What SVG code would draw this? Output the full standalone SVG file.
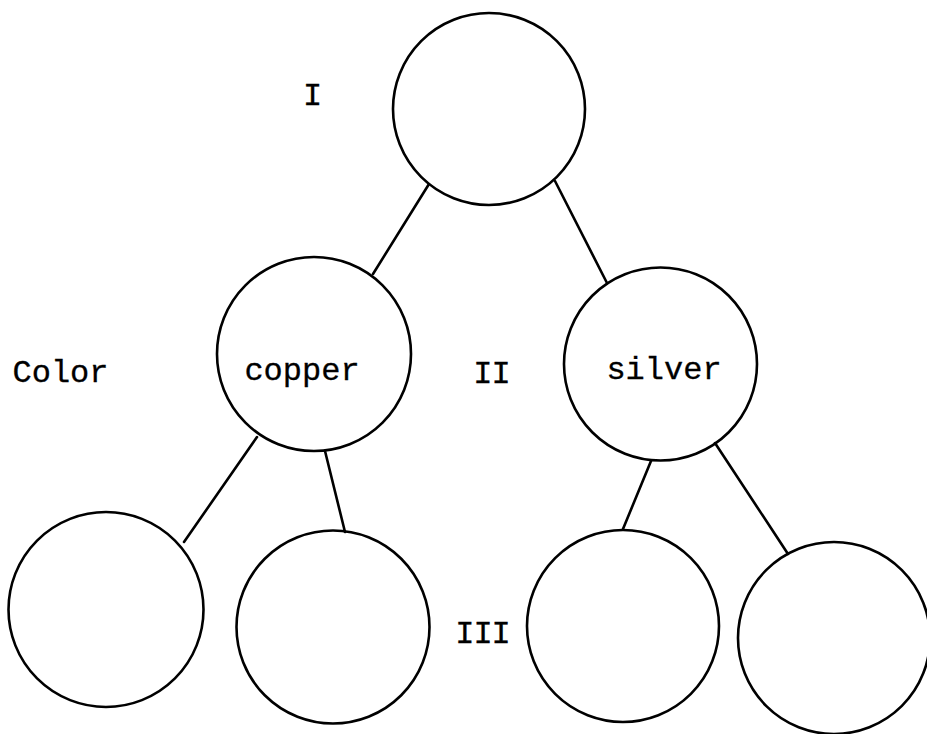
<svg xmlns="http://www.w3.org/2000/svg" width="927" height="734" viewBox="0 0 927 734">
  <style>
    .node { fill: none; stroke: #000; stroke-width: 2.6; }
    .edge { stroke: #000; stroke-width: 2.6; stroke-linecap: round; fill: none; }
    .lbl { font-family: "Liberation Mono", "Courier New", monospace; font-size: 32px; fill: #000; stroke: #000; stroke-width: 0.3; text-anchor: middle; }
  </style>
  <rect width="927" height="734" fill="#fff"/>

  <!-- level labels -->
  <g id="level-labels">
    <text class="lbl" x="312.5" y="105">I</text>
    <text class="lbl" x="491.5" y="383" letter-spacing="-1">II</text>
    <text class="lbl" x="482.5" y="643" letter-spacing="-1">III</text>
    <text class="lbl" x="60.5" y="382">Color</text>
  </g>

  <!-- connectors -->
  <g id="connectors">
    <line class="edge" x1="429" y1="184" x2="373" y2="274"/>
    <line class="edge" x1="555" y1="181" x2="607" y2="283"/>
    <line class="edge" x1="257" y1="437" x2="184" y2="542"/>
    <line class="edge" x1="325" y1="451" x2="345" y2="532"/>
    <line class="edge" x1="651" y1="461" x2="623" y2="529"/>
    <line class="edge" x1="715" y1="443" x2="788" y2="554"/>
  </g>

  <!-- tree nodes -->
  <g id="root">
    <circle class="node" cx="489" cy="109" r="96"/>
  </g>
  <g id="copper">
    <circle class="node" cx="314" cy="354" r="97"/>
    <text class="lbl" x="302" y="380">copper</text>
  </g>
  <g id="silver">
    <circle class="node" cx="660.5" cy="364" r="96.5"/>
    <text class="lbl" x="664" y="379">silver</text>
  </g>
  <g id="leaf-1">
    <circle class="node" cx="106" cy="609.5" r="97.5"/>
  </g>
  <g id="leaf-2">
    <circle class="node" cx="333" cy="627" r="96.5"/>
  </g>
  <g id="leaf-3">
    <circle class="node" cx="623" cy="626" r="96"/>
  </g>
  <g id="leaf-4">
    <circle class="node" cx="834" cy="638" r="96"/>
  </g>
</svg>
